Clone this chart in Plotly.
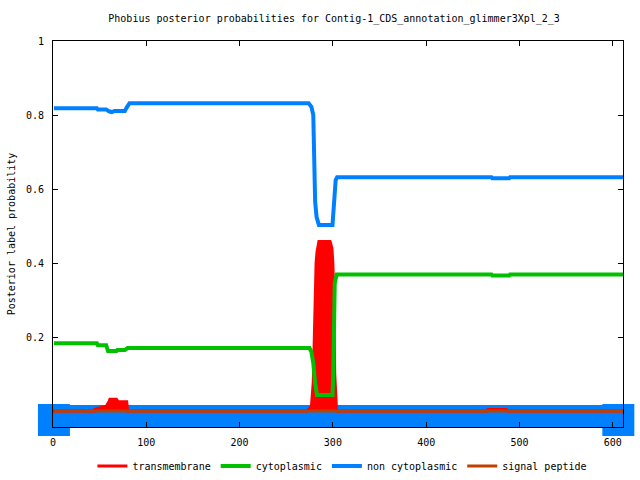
import plotly.graph_objects as go

# ---- data ----
title_text = "Phobius posterior probabilities for Contig-1_CDS_annotation_glimmer3Xpl_2_3"
seq_len = 611

tm_x = [0, 44, 45, 50, 57, 60, 61, 68, 70, 79, 80, 272, 277, 279, 280, 281, 282, 283, 285,
        297, 299, 300, 301, 302, 303, 304, 465, 466, 486, 487, 611]
tm_y = [0, 0, 0.005, 0.009, 0.013, 0.025, 0.032, 0.032, 0.025, 0.025, 0, 0, 0.012, 0.079, 0.20,
        0.33, 0.40, 0.43, 0.458, 0.458, 0.44, 0.40, 0.30, 0.10, 0.02, 0, 0, 0.004, 0.004, 0, 0]

cyto_x = [1, 47, 48, 57, 59, 68, 69, 77, 80, 275, 277, 279, 281, 282.5, 283, 299.6, 300.4, 302,
          304, 470, 471, 489, 490, 611]
cyto_y = [0.183, 0.183, 0.178, 0.178, 0.162, 0.162, 0.165, 0.165, 0.170, 0.170, 0.160, 0.129,
          0.075, 0.048, 0.043, 0.043, 0.093, 0.345, 0.369, 0.369, 0.366, 0.366, 0.369, 0.369]

noncyto_x = [1, 47, 48, 57, 60, 63, 66, 77, 79, 82, 274, 277, 279, 281, 282.5, 285, 299.6, 301,
             303, 304.6, 470, 471, 489, 490, 611]
noncyto_y = [0.818, 0.818, 0.815, 0.815, 0.810, 0.808, 0.811, 0.811, 0.820, 0.832, 0.832, 0.822,
             0.800, 0.566, 0.525, 0.503, 0.503, 0.543, 0.624, 0.632, 0.632, 0.629, 0.629, 0.632, 0.632]

sp_x = [1, 611]
sp_y = [0, 0]

# predicted topology bar (non cytoplasmic region)
topo_x = [1, 606]
topo_level = [-0.024, -0.024]

x_ticks = [0, 100, 200, 300, 400, 500, 600]
y_ticks = [0.2, 0.4, 0.6, 0.8, 1]
y_tick_text = ["0.2", "0.4", "0.6", "0.8", "1"]

RED = "#ff0000"
GREEN = "#00c000"
BLUE = "#0080ff"
BROWN = "#c04000"
FONT = "DejaVu Sans Mono"

fig = go.Figure()

# topology band
fig.add_trace(go.Scatter(
    x=topo_x, y=topo_level, mode="lines+markers",
    line=dict(color=BLUE, width=30),
    marker=dict(symbol="square", size=32, color=BLUE, line=dict(width=0)),
    cliponaxis=False, showlegend=False, hoverinfo="skip"))

fig.add_trace(go.Scatter(
    x=tm_x, y=tm_y, mode="lines", name="transmembrane", legendgroup="tm",
    line=dict(color=RED, width=3), fill="tozeroy", fillcolor=RED, showlegend=False))
# legend entry for transmembrane (line sample only)
fig.add_trace(go.Scatter(
    x=[None], y=[None], mode="lines", name="transmembrane", legendgroup="tm",
    line=dict(color=RED, width=3)))

fig.add_trace(go.Scatter(
    x=cyto_x, y=cyto_y, mode="lines", name="cytoplasmic",
    line=dict(color=GREEN, width=4)))

fig.add_trace(go.Scatter(
    x=noncyto_x, y=noncyto_y, mode="lines", name="non cytoplasmic",
    line=dict(color=BLUE, width=4)))

fig.add_trace(go.Scatter(
    x=sp_x, y=sp_y, mode="lines", name="signal peptide",
    line=dict(color=BROWN, width=3)))

fig.update_layout(
    width=640, height=480,
    margin=dict(l=53, r=17, t=41, b=53, autoexpand=False),
    paper_bgcolor="white", plot_bgcolor="white",
    font=dict(family=FONT, size=10, color="black"),
    title=dict(text=title_text, x=0.522, xanchor="center", y=1 - 18 / 480,
               yanchor="middle", yref="container", font=dict(family=FONT, size=10)),
    showlegend=True,
    legend=dict(orientation="h", x=0.535, xanchor="center", xref="container",
                y=1 - 466 / 480, yanchor="middle", yref="container",
                font=dict(family=FONT, size=10), itemwidth=30, bgcolor="rgba(0,0,0,0)"),
)

fig.update_xaxes(range=[0, seq_len], tickvals=x_ticks, ticks="inside", ticklen=5,
                 showline=True, linecolor="black", linewidth=1, mirror="ticks",
                 showgrid=False, zeroline=False, tickcolor="black", ticklabelstandoff=6,
                 automargin=False)
fig.update_yaxes(range=[-0.0432, 1], tickvals=y_ticks, ticktext=y_tick_text,
                 ticks="inside", ticklen=5, showline=True, linecolor="black", linewidth=1,
                 mirror="ticks", showgrid=False, zeroline=False, tickcolor="black",
                 ticklabelstandoff=6, automargin=False,
                 title=dict(text="Posterior label probability", standoff=8,
                            font=dict(family=FONT, size=10)))

fig.write_html("out.html", config={"displayModeBar": False},
               post_script="document.body.style.margin='0';")
